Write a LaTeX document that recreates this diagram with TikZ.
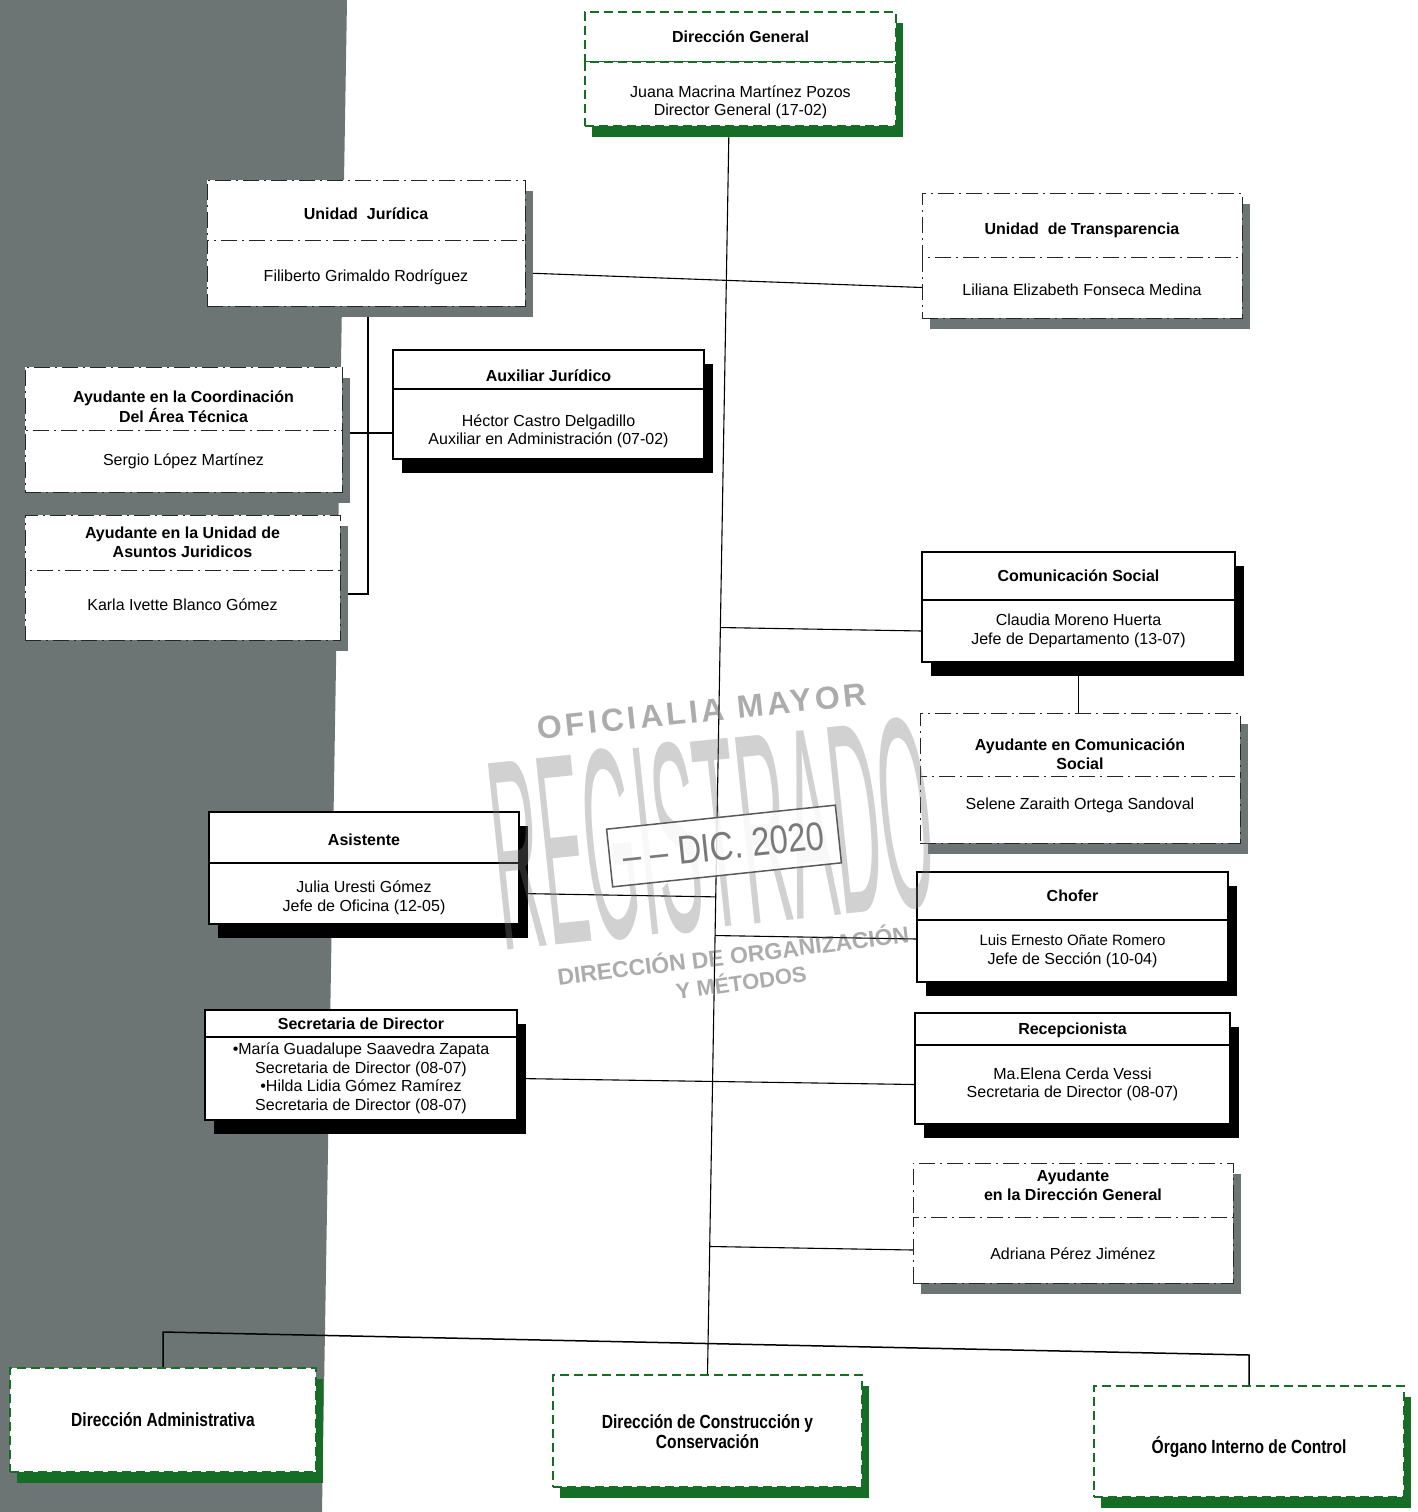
\documentclass[tikz,border=0pt]{standalone}
\usepackage{fontspec}
\setmainfont{Liberation Sans}
\newfontfamily\narrowfont[FakeStretch=0.82]{Liberation Sans}
\usetikzlibrary{positioning,shadows,calc,backgrounds}
\definecolor{band}{RGB}{108,117,116}
\definecolor{dirgreen}{RGB}{22,110,38}
\definecolor{stampgray}{RGB}{90,90,90}
\newcommand{\shiftdown}[2]{\raisebox{-#1}[\height][\depth]{\begin{tabular}{@{}c@{}}#2\end{tabular}}}
\tikzstyle{cell}=[rectangle, fill=white, inner sep=2pt, outer sep=0pt, align=center, font=\fontsize{16}{18.5}\selectfont]
\tikzstyle{head}=[cell, font=\fontsize{16}{19}\selectfont\bfseries]
\tikzstyle{bighead}=[cell, font=\narrowfont\bfseries\fontsize{19}{20}\selectfont]
\tikzset{solidbox/.style={draw=black, line width=1.3pt, drop shadow={shadow xshift=9pt, shadow yshift=-14pt, fill=black, opacity=1}}}
\tikzset{dotbox/.style={draw=black!85, line width=1pt, dash pattern=on 16pt off 5pt on 2pt off 5pt, drop shadow={shadow xshift=8pt, shadow yshift=-11pt, fill=band, opacity=1}}}
\tikzset{greenbox/.style={draw=dirgreen, line width=1.8pt, dash pattern=on 9pt off 5pt, drop shadow={shadow xshift=7pt, shadow yshift=-11pt, fill=dirgreen, opacity=1}}}
\tikzset{link/.style={line width=1.1pt}}
\tikzset{stamp/.style={text=stampgray, opacity=.5}}

\begin{document}
\begin{tikzpicture}[x=1pt,y=-1pt]
  \useasboundingbox (0,0) rectangle (1418,1512);

  \node[head,greenbox,minimum width=311,minimum height=50] (dgt) at (740.5,37) {Dirección General};
  \node[cell,greenbox,minimum width=311,minimum height=64,below=0pt of dgt] (dg) {\shiftdown{9pt}{Juana Macrina Martínez Pozos\\Director General (17-02)}};

  \node[head,dotbox,minimum width=318,minimum height=60] (ujt) at (366,210) {\shiftdown{6pt}{Unidad~~Jurídica}};
  \node[cell,dotbox,minimum width=318,minimum height=66,below=0pt of ujt] (uj) {\shiftdown{5pt}{Filiberto Grimaldo Rodríguez}};

  \node[head,dotbox,minimum width=320,minimum height=64] (utt) at (1082,225) {\shiftdown{6pt}{Unidad~~de Transparencia}};
  \node[cell,dotbox,minimum width=320,minimum height=61,below=0pt of utt] (ut) {\shiftdown{4pt}{Liliana Elizabeth Fonseca Medina}};

  \node[head,solidbox,minimum width=311,minimum height=39] (auxt) at (548.5,369.5) {\shiftdown{8pt}{Auxiliar Jurídico}};
  \node[cell,solidbox,minimum width=311,minimum height=70,below=0pt of auxt] (aux) {\shiftdown{8pt}{Héctor Castro Delgadillo\\Auxiliar en Administración (07-02)}};

  \node[head,dotbox,minimum width=317,minimum height=63] (coot) at (183.5,398.5) {\shiftdown{10pt}{Ayudante en la Coordinación\\Del Área Técnica}};
  \node[cell,dotbox,minimum width=317,minimum height=62,below=0pt of coot] (coo) {Sergio López Martínez};

  \node[head,dotbox,minimum width=315,minimum height=55] (asut) at (182.5,542.5) {Ayudante en la Unidad de\\Asuntos Juridicos};
  \node[cell,dotbox,minimum width=315,minimum height=70,below=0pt of asut] (asu) {Karla Ivette Blanco Gómez};

  \node[head,solidbox,minimum width=313,minimum height=48] (comt) at (1078.5,576) {Comunicación Social};
  \node[cell,solidbox,minimum width=313,minimum height=62,below=0pt of comt] (com) {Claudia Moreno Huerta\\Jefe de Departamento (13-07)};

  \node[head,dotbox,minimum width=320,minimum height=63] (aycomt) at (1080,744.5) {\shiftdown{12pt}{Ayudante en Comunicación\\Social}};
  \node[cell,dotbox,minimum width=320,minimum height=67,below=0pt of aycomt] (aycom) {\shiftdown{-4pt}{Selene Zaraith Ortega Sandoval}};

  \node[head,solidbox,minimum width=310,minimum height=51] (asit) at (364,837.5) {\shiftdown{4pt}{Asistente}};
  \node[cell,solidbox,minimum width=310,minimum height=61,below=0pt of asit] (asi) {\shiftdown{5pt}{Julia Uresti Gómez\\Jefe de Oficina (12-05)}};

  \node[head,solidbox,minimum width=311,minimum height=48] (chot) at (1072.5,896) {Chofer};
  \node[cell,solidbox,minimum width=311,minimum height=62,below=0pt of chot] (cho) {{\fontsize{15}{18}\selectfont Luis Ernesto Oñate Romero}\\Jefe de Sección (10-04)};

  \node[head,solidbox,minimum width=312,minimum height=27] (sect) at (361,1023.5) {Secretaria de Director};
  \node[cell,solidbox,minimum width=312,minimum height=83,below=0pt of sect] (sec) {•María Guadalupe Saavedra Zapata\\Secretaria de Director (08-07)\\•Hilda Lidia Gómez Ramírez\\Secretaria de Director (08-07)};

  \node[head,solidbox,minimum width=315,minimum height=32] (rect) at (1072.5,1029) {\shiftdown{2pt}{Recepcionista}};
  \node[cell,solidbox,minimum width=315,minimum height=79,below=0pt of rect] (rec) {Ma.Elena Cerda Vessi\\Secretaria de Director (08-07)};

  \node[head,dotbox,minimum width=320,minimum height=54] (aydgt) at (1073,1190) {\shiftdown{-3pt}{Ayudante\\en la Dirección General}};
  \node[cell,dotbox,minimum width=320,minimum height=66,below=0pt of aydgt] (aydg) {\shiftdown{6pt}{Adriana Pérez Jiménez}};

  \node[bighead,greenbox,minimum width=306,minimum height=104] (dadm) at (163,1420) {\shiftdown{2pt}{Dirección Administrativa}};
  \node[bighead,greenbox,minimum width=309,minimum height=112] (dcc) at (707.5,1431) {\shiftdown{3pt}{Dirección de Construcción y\\Conservación}};
  \node[bighead,greenbox,minimum width=310,minimum height=111] (oic) at (1249,1441.5) {\shiftdown{7pt}{Órgano Interno de Control}};

  \begin{scope}[on background layer]
    \fill[band] (0,0) -- (347,0) -- (322,1512) -- (0,1512) -- cycle;
    \coordinate (ttop) at (729,126);
    \draw[link] (ttop) -- (dcc.north);
    \draw[link] (uj.east) -- (ut.west);
    \coordinate (jv) at (368,433);
    \coordinate (jb) at (368,594);
    \draw[link] (uj.south -| jv) -- (jb) -- (asu.east |- jb);
    \draw[link] (coo.east |- jv) -- (aux.west |- jv);
    \draw[link] (com.west) -- ($(ttop)!(com.west)!(dcc.north)$);
    \draw[link] (com.south) -- (com.south |- aycomt.north);
    \draw[link] (asi.east) -- ($(ttop)!(asi.east)!(dcc.north)$);
    \draw[link] ([yshift=12pt]cho.west) -- ($(ttop)!([yshift=12pt]cho.west)!(dcc.north)$);
    \draw[link] (sec.east) -- (rec.west);
    \draw[link] (aydg.west) -- ($(ttop)!(aydg.west)!(dcc.north)$);
    \coordinate (busl) at (163,1332);
    \coordinate (busr) at (1249,1355);
    \draw[link,line width=1.5pt] (dadm.north) -- (busl) -- (busr) -- (oic.north);
  \end{scope}

  %% sello
  \node[stamp,rotate=6,font=\bfseries\fontsize{32}{32}\selectfont\addfontfeature{LetterSpace=11}] (ofi) at (702,711) {OFICIALIA MAYOR};
  \node[text=stampgray!80,opacity=.35,rotate=6,inner sep=0pt] (reg) at (712,834) {\scalebox{0.245}[1]{\fontsize{272}{272}\selectfont REGISTRADO}};
  \node[draw=stampgray,line width=1.5pt,fill=white,fill opacity=.85,text opacity=.8,text=stampgray,rotate=6,minimum width=230,minimum height=58,font=\narrowfont\fontsize{40}{40}\selectfont] (fecha) at (724,846) {– – DIC. 2020};
  \node[stamp,rotate=7,font=\bfseries\fontsize{23}{23}\selectfont] (dom) at (733,954) {DIRECCIÓN DE ORGANIZACIÓN};
  \node[stamp,rotate=8,font=\bfseries\fontsize{22}{22}\selectfont] (ym) at (741,981) {Y MÉTODOS};
\end{tikzpicture}
\end{document}
